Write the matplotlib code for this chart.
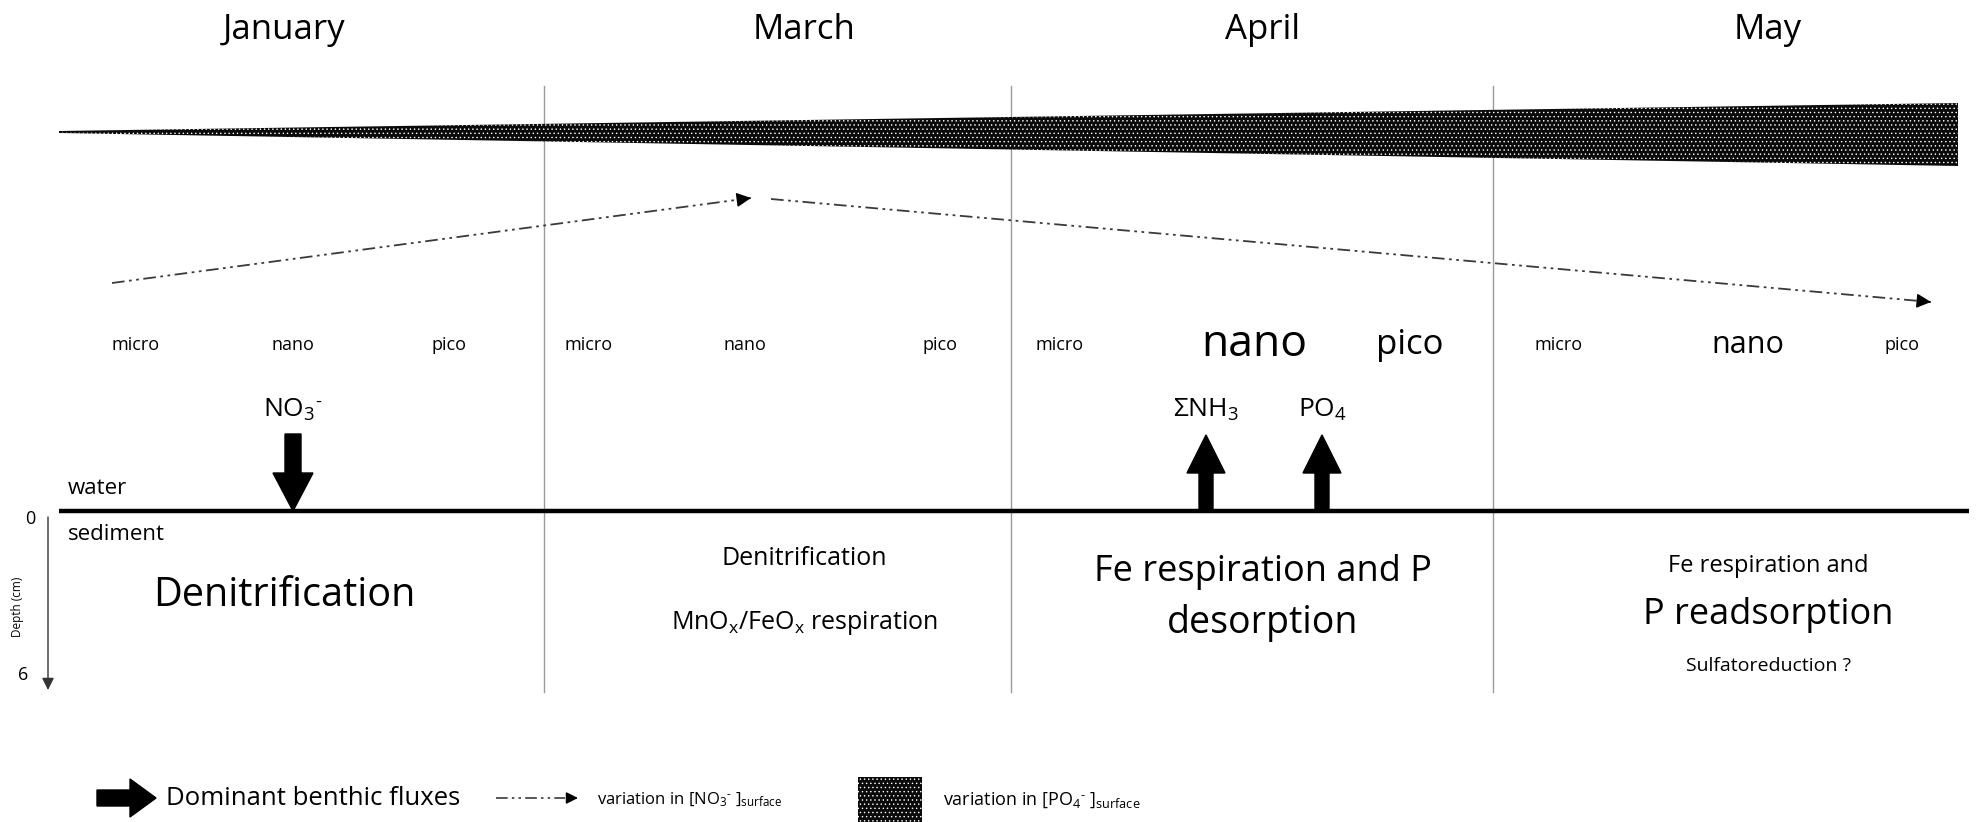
import matplotlib
matplotlib.use("Agg")
import matplotlib.pyplot as plt
from matplotlib.patches import Polygon

plt.rcParams['font.family'] = ['Open Sans', 'DejaVu Sans']
plt.rcParams['mathtext.fontset'] = 'custom'
plt.rcParams['mathtext.rm'] = 'Open Sans'
plt.rcParams['mathtext.it'] = 'Open Sans'
plt.rcParams['mathtext.bf'] = 'Open Sans'
plt.rcParams['hatch.linewidth'] = 0.5

# ---------------- data ----------------
months = ["January", "March", "April", "May"]
month_x = [284, 804, 1263, 1768]
separators_x = [544, 1011, 1493]

size_classes = ["micro", "nano", "pico"]
size_x = [[136, 293, 449], [589, 745, 940], [1060, 1254, 1410], [1559, 1748, 1902]]
size_fontsize = [[13, 13, 13], [13, 13, 13], [13, 32, 25], [13, 22, 13]]

# surface nitrate trajectory (schematic level per stage)
no3_x = [112, 751, 771, 1931]
no3_y = [283, 198, 199, 302]

# surface phosphate wedge: thickness at start and end
po4_x = [59, 1958]
po4_top = [131, 103]
po4_bottom = [133, 166]

# benthic fluxes: label, x, direction (+1 = into sediment, -1 = out)
flux_labels = [r"NO$_\mathrm{3}$$^\mathrm{‐}$", r"ΣNH$_\mathrm{3}$", r"PO$_\mathrm{4}$"]
flux_x = [293, 1206, 1322]
flux_dir = [1, -1, -1]

processes = [
    [("Denitrification", 28.5, 596)],
    [("Denitrification", 18, 558), (r"MnO$_\mathrm{x}$/FeO$_\mathrm{x}$ respiration", 18, 623)],
    [("Fe respiration and P", 26, 572), ("desorption", 27, 623)],
    [("Fe respiration and", 17, 566), ("P readsorption", 26, 615), ("Sulfatoreduction ?", 14, 666)],
]

# ---------------- figure ----------------
W, H = 1979, 822
fig = plt.figure(figsize=(W / 100, H / 100), dpi=100)
ax = fig.add_axes([0, 0, 1, 1])
ax.set_xlim(0, W)
ax.set_ylim(H, 0)
ax.axis('off')

# separators
for x in separators_x:
    ax.plot([x, x], [86, 692], color='#9a9a9a', lw=1.0, zorder=1)

# month titles
for m, x in zip(months, month_x):
    ax.text(x, 30, m, ha='center', va='center', fontsize=25, color='black')

# PO4 wedge
poly = Polygon([(po4_x[0], po4_top[0]), (po4_x[1], po4_top[1]),
                (po4_x[1], po4_bottom[1]), (po4_x[0], po4_bottom[0])],
               closed=True, facecolor='#0a0a0a', edgecolor='white', lw=0,
               hatch='....', zorder=2)
ax.add_patch(poly)

# NO3 trajectory (dash-dot-dot arrows)
ls = (0, (7, 2.5, 1.5, 2.5, 1.5, 2.5))
for i in range(0, len(no3_x), 2):
    x0, y0, x1, y1 = no3_x[i], no3_y[i], no3_x[i + 1], no3_y[i + 1]
    ax.plot([x0, x1], [y0, y1], color='#3a3a3a', lw=1.3, linestyle=ls, zorder=3)
    dx, dy = x1 - x0, y1 - y0
    ax.annotate('', xy=(x1, y1), xytext=(x1 - dx * 0.01, y1 - dy * 0.01),
                arrowprops=dict(arrowstyle='-|>', color='black', lw=1,
                                mutation_scale=22, shrinkA=0, shrinkB=0), zorder=4)

# size classes
for k in range(len(months)):
    for j, s in enumerate(size_classes):
        ax.text(size_x[k][j], 345, s, ha='center', va='center',
                fontsize=size_fontsize[k][j], color='black')

# water / sediment interface
ax.plot([59, 1969], [511, 511], color='black', lw=3.2, solid_capstyle='butt', zorder=3)
ax.text(68, 488, "water", ha='left', va='center', fontsize=16)
ax.text(68, 534, "sediment", ha='left', va='center', fontsize=16)

# depth axis
ax.annotate('', xy=(48, 690), xytext=(48, 517),
            arrowprops=dict(arrowstyle='-|>', color='#333333', lw=1,
                            mutation_scale=18, shrinkA=0, shrinkB=0))
ax.text(30, 519, "0", ha='center', va='center', fontsize=13)
ax.text(23, 675, "6", ha='center', va='center', fontsize=13)
ax.text(17, 607, "Depth (cm)", ha='center', va='center', fontsize=8.5, rotation=90)

# benthic flux arrows
for lab, x, d in zip(flux_labels, flux_x, flux_dir):
    if d > 0:
        ax.arrow(x, 434, 0, 77, width=16, head_width=40, head_length=38,
                 length_includes_head=True, color='black', zorder=5)
    else:
        ax.arrow(x, 511, 0, -76, width=14, head_width=38, head_length=38,
                 length_includes_head=True, color='black', zorder=5)
    ax.text(x, 410, lab, ha='center', va='center', fontsize=19)

# sediment processes
for k, lines in enumerate(processes):
    for txt, fs, y in lines:
        ax.text(month_x[k], y, txt, ha='center', va='center', fontsize=fs)

# legend
ax.arrow(97, 798, 59, 0, width=16, head_width=38, head_length=26,
         length_includes_head=True, color='black')
ax.text(166, 798, "Dominant benthic fluxes", ha='left', va='center', fontsize=18.5)
ax.plot([496, 565], [798, 798], color='#3a3a3a', lw=1.2, linestyle=ls)
ax.annotate('', xy=(578, 798), xytext=(570, 798),
            arrowprops=dict(arrowstyle='-|>', color='black', lw=1,
                            mutation_scale=18, shrinkA=0, shrinkB=0))
ax.text(597, 800, r"variation in [NO$_\mathrm{3}$$^\mathrm{‐}$ ]$_\mathrm{surface}$",
        ha='left', va='center', fontsize=12)
sw = Polygon([(858, 777), (922, 777), (922, 822), (858, 822)], closed=True,
             facecolor='#0a0a0a', edgecolor='white', lw=0, hatch='....')
ax.add_patch(sw)
ax.text(943, 800, r"variation in [PO$_\mathrm{4}$$^\mathrm{‐}$ ]$_\mathrm{surface}$",
        ha='left', va='center', fontsize=13)

fig.savefig("out.png", dpi=100, facecolor='white')
